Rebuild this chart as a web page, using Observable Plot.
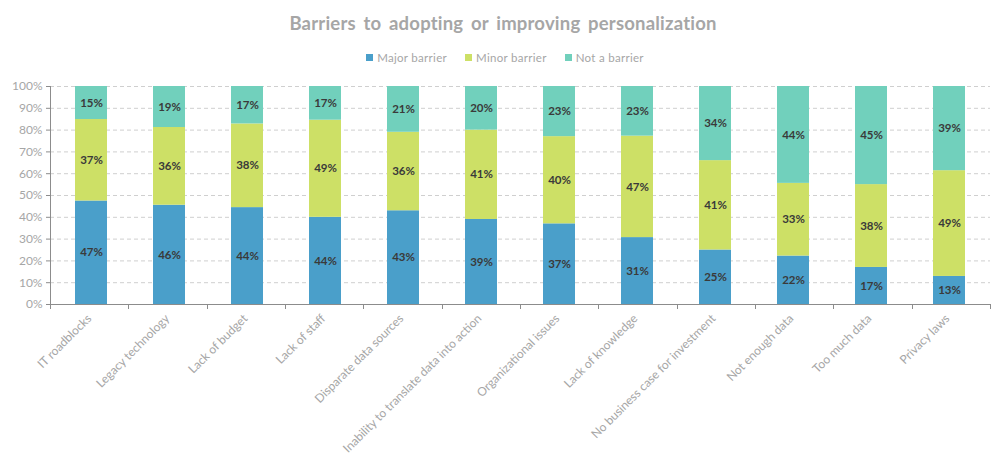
<!DOCTYPE html>
<html>
<head>
<meta charset="utf-8">
<script src="https://cdn.jsdelivr.net/npm/d3@7"></script>
<script src="https://cdn.jsdelivr.net/npm/@observablehq/plot@0.6"></script>
<style>
  body { margin: 0; background: #fff; font-family: Lato, "Open Sans", sans-serif; }
  #wrap { width: 1006px; }
  #title { height: 44px; line-height: 46px; text-align: center; font-weight: bold; font-size: 18.5px; color: #a6a6a6; letter-spacing: 0.2px; word-spacing: 3px; }
  #legend { height: 26px; display: flex; justify-content: center; align-items: center; gap: 18px; font-size: 11.5px; color: #a6a6a6; padding-left: 4px; letter-spacing: 0.3px; }
  #legend .item { display: flex; align-items: center; gap: 4px; }
  #legend .sw { width: 7px; height: 7px; display: inline-block; }
  svg { display: block; }
</style>
</head>
<body>
<div id="wrap">
  <div id="title">Barriers to adopting or improving personalization</div>
  <div id="legend"></div>
  <div id="chart"></div>
</div>
<script>
const categories = [
  "IT roadblocks", "Legacy technology", "Lack of budget", "Lack of staff",
  "Disparate data sources", "Inability to translate data into action",
  "Organizational issues", "Lack of knowledge", "No business case for investment",
  "Not enough data", "Too much data", "Privacy laws"
];
const seriesNames = ["Major barrier", "Minor barrier", "Not a barrier"];
const seriesColors = ["#4a9fca", "#cde066", "#71d0bc"];
const majorBarrier = [47, 46, 44, 44, 43, 39, 37, 31, 25, 22, 17, 13];
const minorBarrier = [37, 36, 38, 49, 36, 41, 40, 47, 41, 33, 38, 49];
const notABarrier  = [15, 19, 17, 17, 21, 20, 23, 23, 34, 44, 45, 39];
const yTicks = [0, 0.1, 0.2, 0.3, 0.4, 0.5, 0.6, 0.7, 0.8, 0.9, 1];

const seriesValues = [majorBarrier, minorBarrier, notABarrier];
const table = [];
categories.forEach((c, i) => {
  seriesNames.forEach((s, j) => table.push({category: c, series: s, value: seriesValues[j][i]}));
});

// legend
const legend = document.getElementById("legend");
seriesNames.forEach((s, j) => {
  const it = document.createElement("span");
  it.className = "item";
  it.innerHTML = `<span class="sw" style="background:${seriesColors[j]}"></span><span>${s}</span>`;
  legend.appendChild(it);
});

const W = 1006, H = 402, mL = 50, mR = 16, mT = 16, mB = 168;
const step = (W - mL - mR) / categories.length;

function excelAxes(index, scales, values, dims) {
  const g = d3.create("svg:g").attr("stroke", "#8c8c8c").attr("stroke-width", 1);
  const x0 = dims.marginLeft, x1 = dims.width - dims.marginRight;
  const yt = dims.marginTop, yb = dims.height - dims.marginBottom;
  g.append("line").attr("x1", x0 + 0.5).attr("x2", x0 + 0.5).attr("y1", yt).attr("y2", yb);
  g.append("line").attr("x1", x0).attr("x2", x1).attr("y1", yb + 0.5).attr("y2", yb + 0.5);
  for (let i = 0; i <= categories.length; i++) {
    const x = Math.round(x0 + i * step) + 0.5;
    g.append("line").attr("x1", x).attr("x2", x).attr("y1", yb).attr("y2", yb + 5);
  }
  return g.node();
}

const chart = Plot.plot({
  width: W, height: H,
  marginLeft: mL, marginRight: mR, marginTop: mT, marginBottom: mB,
  style: {fontFamily: "Lato, 'Open Sans', sans-serif", fontSize: "11px", background: "#fff"},
  x: {domain: categories, paddingInner: 0.59, paddingOuter: 0.295, label: null, axis: null},
  y: {domain: [0, 1], label: null, axis: null},
  color: {domain: seriesNames, range: seriesColors},
  marks: [
    Plot.gridY(yTicks.filter(t => t > 0), {stroke: "#cfcfcf", strokeOpacity: 1, strokeDasharray: "4,3"}),
    Plot.barY(table, Plot.stackY({
      x: "category", y: "value", fill: "series", order: seriesNames, offset: "normalize"
    })),
    Plot.text(table, Plot.stackY({
      x: "category", y: "value", z: "series", order: seriesNames, offset: "normalize",
      text: d => d.value + "%", fill: "#3a3a3a", fontWeight: "bold", fontSize: 11.5
    })),
    Plot.axisY({ticks: yTicks, tickFormat: d3.format(".0%"), tickSize: 4, tickPadding: 4,
      color: "#a6a6a6", stroke: "#8c8c8c", fontSize: 12, label: null}),
    Plot.axisX({tickSize: 0, tickRotate: -45, tickPadding: 12, dx: -2, color: "#a6a6a6",
      fontSize: 12, label: null}),
    excelAxes
  ]
});
document.getElementById("chart").appendChild(chart);
</script>
</body>
</html>
